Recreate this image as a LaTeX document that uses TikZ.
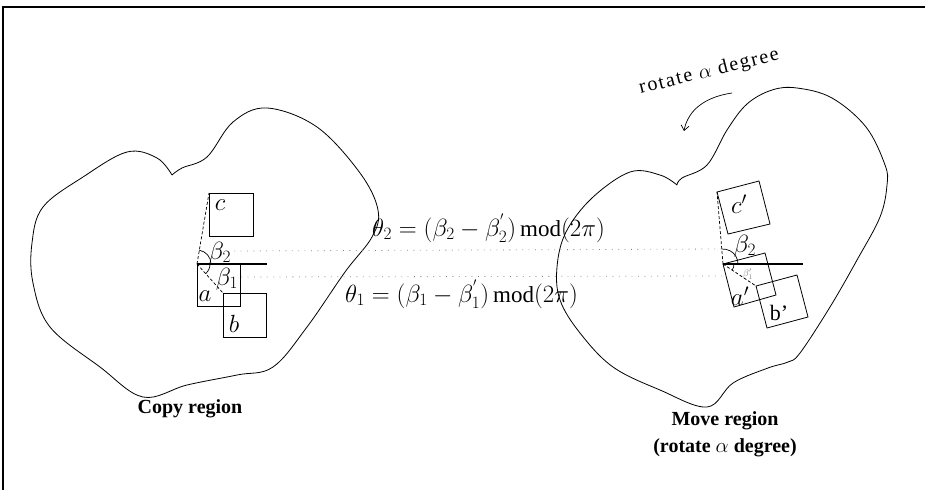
\documentclass[tikz,border=0pt]{standalone}
\usepackage{fontspec}
\setmainfont{Liberation Serif}
\usetikzlibrary{arrows.meta}
\begin{document}
\begin{tikzpicture}[x=1pt,y=-1pt,
  outline/.style={line width=0.8pt,line join=round},
  boxline/.style={line width=0.8pt},
  baseln/.style={line width=1.3pt},
  dashln/.style={line width=0.7pt,dash pattern=on 3pt off 2pt},
  dotln/.style={line width=0.8pt,gray,dash pattern=on 0.8pt off 5.6pt},
  big/.style={font=\fontsize{23}{27}\selectfont, inner sep=0pt},
  captxt/.style={font=\fontsize{20}{27}\selectfont\bfseries, align=center, inner sep=0pt}]
\useasboundingbox (0,0) rectangle (925,490);
% frame
\draw[line width=1.2pt] (3,490) -- (3,7) -- (925,7);

% left region outline
\draw[outline] plot[smooth, tension=0.6] coordinates {
 (172,175) (182,168) (207,157) (233,122) (267,108) (317,127) (360,173)
 (378,210) (372,237) (345,272) (307,327) (273,367) (237,375) (187,385)
 (143,397) (100,367) (50,327) (33,283) (32,243) (43,207) (83,177)
 (127,152) (157,158) (172,175)};

% right region outline
\draw[outline] plot[smooth, tension=0.6] coordinates {
 (677,185) (682,178) (707,165) (727,130) (747,104) (772,90) (797,88)
 (832,98) (866,127) (885,165) (887,185) (880,217) (857,260) (830,307)
 (800,353) (788,362) (768,368) (733,383) (707,407) (660,390) (613,367)
 (580,333) (560,300) (557,267) (566,232) (592,198) (630,172) (660,175)
 (677,185)};

% ---- left squares ----
\coordinate (va) at (197,264);
\coordinate (cTL) at (209,193);
\coordinate (bTL) at (223,293);
\draw[boxline] (cTL) rectangle (253,236);
\draw[boxline] (197,263) rectangle (240,306);
\draw[boxline] (bTL) rectangle (266,337);
\node[big] (lc) at (220,205) {$c$};
\node[big] (la) at (205,296) {$a$};
\node[big] (lb) at (234,324) {$b$};
\coordinate (vaE) at (267,264);
\draw[baseln] (va) -- (vaE);
\draw[dashln] (va) -- (cTL);
\draw[dashln] (va) -- (bTL);
\draw[line width=0.7pt] ([shift={(14,0)}]va) arc[start angle=0,end angle=-80.4,radius=14];
\draw[line width=0.7pt] ([shift={(13,0)}]va) arc[start angle=0,end angle=48,radius=13];
\node[big] (lb2) at (220,253) {$\beta_2$};
\node[big] (lb1) at (227,279) {$\beta_1$};

% ---- right squares ----
\coordinate (vr) at (723,264);
\coordinate (cpTL) at (717,192);
\coordinate (bpTL) at (756,286);
\draw[boxline] (cpTL) -- (759,181) -- (770,224) -- (728,234) -- cycle;
\draw[boxline] (vr) -- (765,253) -- (776,295) -- (734,307) -- cycle;
\draw[boxline] (bpTL) -- (797,275) -- (808,317) -- (767,328) -- cycle;
\node[big] (rc) at (739,204) {$c'$};
\node[big] (ra) at (740,296) {$a'$};
\node[font=\fontsize{22}{26}\selectfont, inner sep=0pt] (rb) at (779,313) {b'};
\coordinate (vrE) at (803,264);
\draw[baseln] (vr) -- (vrE);
\draw[dashln] (vr) -- (cpTL);
\draw[dashln] (vr) -- (bpTL);
\draw[line width=0.7pt] ([shift={(15,0)}]vr) arc[start angle=0,end angle=-94.8,radius=15];
\draw[line width=0.7pt] ([shift={(11,0)}]vr) arc[start angle=0,end angle=33.7,radius=11];
\node[big] (rb2) at (745,246) {$\beta_2$};
\node[font=\fontsize{10}{11}\selectfont, text=gray, inner sep=0pt] (rb1) at (748,274) {$\beta_1'$};

% dotted guide lines
\draw[dotln] (lb2.east) ++(3,-2) coordinate (d2s) -- (722,249) coordinate (d2e);
\draw[dotln] (lb1.east) ++(3,-2) coordinate (d1s) -- (722,276) coordinate (d1e);

% equations
\node[big, anchor=base west] (eq2) at (372,236) {$\theta_2=(\beta_2-\beta^{'}_{2})\,\mathrm{mod}(2\pi)$};
\node[big, anchor=base west] (eq1) at (345,302) {$\theta_1=(\beta_1-\beta^{'}_{1})\,\mathrm{mod}(2\pi)$};

% rotation hint
\node[font=\fontsize{20}{24}\selectfont\addfontfeature{LetterSpace=9}, rotate=14, inner sep=0pt] (rot) at (709,72) {rotate $\alpha$ degree};
\coordinate (ra1) at (732,93);
\coordinate (ra2) at (684,131);
\draw[line width=0.7pt, -{Straight Barb[length=5pt,width=8pt]}] (ra1) .. controls (705,97) and (688,110) .. (ra2);

% captions
\node[captxt] (copy) at (190,409) {Copy region};
\node[captxt] (move) at (725,434) {Move region\\(rotate $\alpha$ degree)};
\end{tikzpicture}
\end{document}
